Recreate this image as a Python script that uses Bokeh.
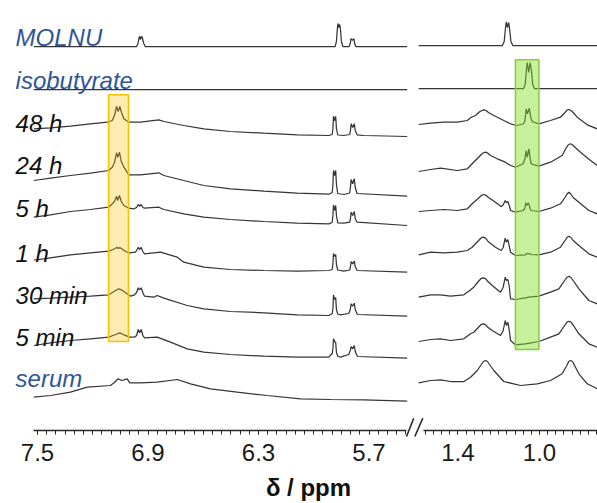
import numpy as np
from bokeh.plotting import figure
from bokeh.layouts import row
from bokeh.models import Range1d, FixedTicker, ColumnDataSource, NumeralTickFormatter
from bokeh.core.properties import value
from bokeh.embed import file_html
from bokeh.resources import INLINE

# ------------------------------------------------------------------ data
labels = ["MOLNU", "isobutyrate", "48 h", "24 h", "5 h", "1 h", "30 min", "5 min", "serum"]
label_is_reference = [True, True, False, False, False, False, False, False, True]

left_ticks = [7.5, 6.9, 6.3, 5.7]
left_tick_labels = ["7.5", "6.9", "6.3", "5.7"]
right_ticks = [1.4, 1.0]
right_tick_labels = ["1.4", "1.0"]
axis_title = "\u03b4 / ppm"

# highlighted signals (ppm)
yellow_band = [7.114, 7.006]
green_band = [1.118, 1.003]

# spectra: chemical shift (ppm) and intensity (a.u.)
molnu_left_ppm = [7.52, 6.962, 6.954, 6.949, 6.945, 6.941, 6.936, 6.931, 6.923, 6.915, 5.884, 5.877, 5.872, 5.869, 5.864, 5.859, 5.855, 5.850, 5.842, 5.808, 5.802, 5.798, 5.790, 5.782, 5.778, 5.772, 5.493]
molnu_left_int = [0, 0, 3, 9, 10, 7, 10, 9, 3, 0, 0, 5, 18, 23, 19, 22, 17, 5, 0, 0, 3, 8, 6, 8, 3, 0, 0]
molnu_right_ppm = [1.592, 1.182, 1.173, 1.167, 1.163, 1.157, 1.151, 1.147, 1.140, 1.131, 0.716]
molnu_right_int = [1, 1, 5, 18, 24.5, 19, 24, 18, 5, 1, 1]

iso_left_ppm = [7.52, 5.493]
iso_left_int = [0, 0]
iso_right_ppm = [1.592, 1.078, 1.070, 1.064, 1.060, 1.053, 1.046, 1.040, 1.033, 1.025, 0.716]
iso_right_int = [1, 1, 5, 20, 27, 17, 27, 20, 5, 1, 1]

h48_left_ppm = [7.520, 7.429, 7.321, 7.212, 7.121, 7.094, 7.082, 7.071, 7.062, 7.053, 7.044, 7.031, 7.004, 6.941, 6.841, 6.814, 6.706, 6.597, 6.452, 6.271, 6.090, 5.918, 5.900, 5.896, 5.893, 5.887, 5.881, 5.877, 5.870, 5.837, 5.805, 5.801, 5.797, 5.789, 5.780, 5.775, 5.765, 5.728, 5.493]
h48_left_int = [7.7, 8.7, 10.3, 12.7, 14.3, 16, 21, 30, 25, 30, 24, 17.7, 14.3, 14.3, 16.7, 15, 11, 7.7, 5, 3.3, 1.7, 1, 2, 8, 20.3, 16, 20, 8, 1.5, 1, 2, 6, 12.7, 9, 12.7, 6, 1.7, 1, 0]
h48_right_ppm = [1.592, 1.534, 1.469, 1.403, 1.354, 1.338, 1.314, 1.295, 1.283, 1.273, 1.262, 1.250, 1.224, 1.175, 1.142, 1.113, 1.080, 1.072, 1.065, 1.059, 1.050, 1.042, 1.036, 1.003, 0.946, 0.897, 0.875, 0.865, 0.856, 0.846, 0.835, 0.815, 0.766, 0.717]
h48_right_int = [12, 13.3, 14.3, 14.3, 16, 18.7, 21, 24.5, 26, 26.7, 26, 24, 21, 16, 12.7, 11, 12.5, 15, 27.7, 22.7, 28.3, 18, 15, 12.7, 16, 19.3, 24, 26.3, 27, 26, 24, 19.3, 11.7, 7.7]

h24_left_ppm = [7.520, 7.429, 7.321, 7.212, 7.113, 7.094, 7.082, 7.071, 7.064, 7.055, 7.045, 7.031, 7.004, 6.941, 6.841, 6.814, 6.706, 6.597, 6.452, 6.271, 6.090, 5.918, 5.900, 5.896, 5.893, 5.887, 5.881, 5.877, 5.870, 5.837, 5.805, 5.801, 5.797, 5.789, 5.780, 5.775, 5.765, 5.493]
h24_left_int = [16, 18.3, 21, 23.3, 26, 29.3, 34, 43.7, 39.3, 44.3, 35, 29.3, 21.7, 21.7, 23.7, 21, 16, 11, 7.7, 5.3, 3.3, 2.3, 4, 12, 26, 21, 26, 12, 3, 2, 3.5, 9, 17, 12.7, 17.7, 9, 3, 0.3]
h24_right_ppm = [1.592, 1.534, 1.485, 1.403, 1.354, 1.330, 1.290, 1.277, 1.265, 1.253, 1.240, 1.207, 1.167, 1.142, 1.118, 1.080, 1.071, 1.066, 1.060, 1.052, 1.046, 1.040, 1.003, 0.946, 0.889, 0.868, 0.858, 0.848, 0.837, 0.825, 0.799, 0.750, 0.717]
h24_right_int = [25, 27, 28.3, 26, 27.7, 32.7, 41, 43.5, 44.3, 43.3, 41, 37.7, 34.3, 31, 29.3, 32.7, 38, 46, 39.3, 47.7, 38, 32.5, 30.3, 34.3, 41, 49, 51.8, 52.7, 51.5, 49, 44.3, 36, 31]

h5_left_ppm = [7.520, 7.429, 7.321, 7.212, 7.113, 7.094, 7.082, 7.071, 7.064, 7.055, 7.045, 7.031, 7.004, 6.977, 6.962, 6.953, 6.946, 6.937, 6.928, 6.919, 6.841, 6.814, 6.706, 6.597, 6.452, 6.271, 6.090, 5.918, 5.900, 5.896, 5.893, 5.887, 5.881, 5.877, 5.870, 5.837, 5.805, 5.801, 5.797, 5.789, 5.780, 5.775, 5.765, 5.493]
h5_left_int = [8.3, 10.7, 14, 16, 18.3, 21.7, 24, 29.3, 25, 30, 24, 20, 17.3, 16.7, 18, 21, 19.3, 21, 18, 17.3, 18.3, 16, 11.7, 8.3, 6, 4, 2.3, 1.7, 3, 10, 20.7, 15, 20, 10, 2.7, 2.3, 3.3, 7, 13.3, 10, 14, 7, 3.3, 0]
h5_right_ppm = [1.592, 1.534, 1.469, 1.403, 1.354, 1.330, 1.295, 1.284, 1.273, 1.262, 1.250, 1.216, 1.188, 1.178, 1.168, 1.162, 1.155, 1.148, 1.142, 1.118, 1.080, 1.072, 1.067, 1.062, 1.054, 1.046, 1.041, 1.003, 0.946, 0.897, 0.875, 0.865, 0.856, 0.846, 0.835, 0.807, 0.758, 0.717]
h5_right_int = [14, 15, 16, 15, 16.7, 21.7, 28, 30.2, 31, 30.2, 28, 23.3, 19, 20.5, 25, 22.7, 24, 20, 15, 13.3, 15, 17, 22.7, 20, 22.7, 17, 15, 14, 17.3, 21.7, 28, 31.5, 33.3, 31.5, 28, 23.3, 15, 11.7]

h1_left_ppm = [7.520, 7.466, 7.321, 7.212, 7.113, 7.089, 7.067, 7.062, 7.053, 7.022, 7.000, 6.968, 6.962, 6.953, 6.946, 6.937, 6.928, 6.919, 6.832, 6.741, 6.706, 6.597, 6.452, 6.271, 6.090, 5.918, 5.900, 5.896, 5.893, 5.887, 5.881, 5.877, 5.870, 5.837, 5.805, 5.801, 5.797, 5.789, 5.780, 5.775, 5.765, 5.493]
h1_left_int = [12.5, 13.7, 17.7, 19.7, 21.3, 23, 25.3, 23.7, 25, 21, 19.7, 20.3, 22, 25.3, 23, 25, 21, 18.7, 20.3, 15.3, 10.3, 5.3, 3, 2, 1.3, 2, 3, 9, 19, 16, 18, 8, 2.5, 1.3, 2.5, 6, 11, 8.7, 11.3, 6, 2, 0.3]
h1_right_ppm = [1.592, 1.534, 1.469, 1.403, 1.354, 1.330, 1.298, 1.287, 1.276, 1.264, 1.252, 1.216, 1.188, 1.178, 1.168, 1.162, 1.155, 1.148, 1.142, 1.118, 1.069, 1.060, 1.055, 1.050, 1.044, 1.003, 0.946, 0.897, 0.875, 0.865, 0.856, 0.846, 0.835, 0.807, 0.758, 0.717]
h1_right_int = [17.7, 20.3, 19.7, 20.3, 22, 25.3, 32, 34.5, 35.3, 34.3, 31, 25.3, 22, 25, 34.3, 30.3, 33, 26, 20.3, 17, 17.7, 19.3, 18.7, 19, 18, 17.7, 20.3, 25.3, 32, 35, 36.3, 35, 32, 27, 18.7, 15.3]

m30_left_ppm = [7.520, 7.429, 7.321, 7.212, 7.113, 7.076, 7.059, 7.045, 7.013, 6.995, 6.973, 6.962, 6.953, 6.946, 6.937, 6.928, 6.919, 6.869, 6.850, 6.814, 6.687, 6.597, 6.452, 6.271, 6.090, 5.918, 5.900, 5.896, 5.893, 5.887, 5.881, 5.877, 5.870, 5.855, 5.810, 5.802, 5.797, 5.789, 5.780, 5.775, 5.763, 5.493]
m30_left_int = [17.7, 18.3, 19.3, 20.3, 21.7, 26, 27.7, 26.7, 22.7, 20.3, 21.7, 24, 28.7, 26.7, 28.7, 24, 20.3, 19.3, 21, 18.3, 11, 7.7, 5, 3.7, 1.7, 1, 3, 8, 21.7, 17, 19, 7, 2.5, 1.7, 3, 7, 12.7, 10.3, 13.3, 7, 2, 0.3]
m30_right_ppm = [1.592, 1.534, 1.485, 1.436, 1.371, 1.342, 1.322, 1.298, 1.287, 1.276, 1.265, 1.255, 1.232, 1.191, 1.178, 1.168, 1.162, 1.155, 1.148, 1.142, 1.118, 1.069, 1.052, 1.003, 0.946, 0.905, 0.875, 0.865, 0.856, 0.846, 0.835, 0.807, 0.758, 0.717]
m30_right_int = [19.3, 21.7, 21.7, 20.3, 21.7, 26, 29.3, 35.5, 37.8, 38.7, 37.8, 35.5, 31, 24.3, 29.3, 39.3, 36, 37, 30, 17.7, 17, 18.7, 19.3, 20.3, 24.3, 27.7, 36.5, 39.3, 40.3, 39, 36, 27.7, 16, 12.7]

m5_left_ppm = [7.520, 7.429, 7.321, 7.212, 7.113, 7.076, 7.053, 7.031, 6.999, 6.973, 6.962, 6.953, 6.946, 6.937, 6.928, 6.919, 6.850, 6.778, 6.687, 6.597, 6.452, 6.271, 6.090, 5.918, 5.900, 5.896, 5.893, 5.887, 5.881, 5.877, 5.870, 5.855, 5.810, 5.802, 5.797, 5.789, 5.780, 5.775, 5.763, 5.493]
m5_left_int = [13, 15.7, 18, 19.7, 21.3, 24, 25.7, 23.7, 21.3, 21.3, 23, 29, 25.7, 29, 23, 20.7, 21.3, 16.3, 9.7, 6.3, 4, 2.3, 1.3, 1.3, 5, 10, 19.7, 17, 16, 6, 2.5, 1.3, 4, 8, 12, 9.7, 13, 7, 2, 0.3]
m5_right_ppm = [1.592, 1.534, 1.485, 1.436, 1.371, 1.338, 1.322, 1.298, 1.287, 1.276, 1.265, 1.255, 1.232, 1.191, 1.178, 1.168, 1.162, 1.155, 1.148, 1.142, 1.118, 1.069, 1.003, 0.946, 0.905, 0.875, 0.865, 0.856, 0.846, 0.835, 0.807, 0.758, 0.717]
m5_right_int = [17, 19, 19.7, 18, 19.7, 24.7, 26.3, 31.5, 33.9, 34.7, 33.9, 31.5, 28, 23, 28, 38, 33, 36.3, 28, 18, 13.7, 14.7, 17, 21.3, 24.7, 33.5, 36.4, 37.3, 36.4, 33.5, 24.7, 14.7, 11.3]

serum_left_ppm = [7.520, 7.429, 7.321, 7.230, 7.104, 7.082, 7.064, 7.040, 7.013, 6.999, 6.941, 6.850, 6.741, 6.669, 6.561, 6.416, 6.253, 6.072, 5.909, 5.728, 5.493]
serum_left_int = [3.3, 5, 8.3, 13.3, 15, 18, 21.7, 20, 21.7, 17.7, 17.7, 18.3, 21, 16.7, 11.7, 8.3, 5, 1.7, 1, 0.7, -0.7]
serum_right_ppm = [1.592, 1.534, 1.485, 1.436, 1.371, 1.338, 1.305, 1.285, 1.275, 1.265, 1.255, 1.245, 1.224, 1.175, 1.093, 1.011, 0.946, 0.889, 0.866, 0.857, 0.848, 0.838, 0.828, 0.807, 0.766, 0.717]
serum_right_int = [17.7, 20, 20.7, 19, 19, 23.3, 30, 36, 39, 40, 39, 36, 30, 19, 15, 16.7, 20, 26.7, 35, 39, 40, 39, 35, 26.7, 16.7, 11.7]

# ------------------------------------------------------------------ layout / style
FIG_H = 503
Y_RANGE = (-430, 0)         # 1 data unit = 1 px, axis line at 430 px
OFFSETS = [46, 89, 136, 196, 225, 272, 316, 358, 400]
LABEL_BASELINES = [37, 80, 123, 165, 208, 253, 295, 337, 378]
LABEL_X = 7.619
LEFT_W, RIGHT_W = 414, 183
LEFT_RANGE = (7.7008, 5.4532)
RIGHT_RANGE = (1.6127, 0.7157)
LEFT_BOUNDS = (5.497, 7.522)
RIGHT_BOUNDS = (0.7157, 1.569)
YELLOW_Y = (-341, -94.3)
GREEN_Y = (-349, -59.3)
BLUE = "#2F5597"
INK = "#262626"
TRACE_COLOR = "#353535"
FONT = "Liberation Sans"

traces = [
    (molnu_left_ppm, molnu_left_int, molnu_right_ppm, molnu_right_int),
    (iso_left_ppm, iso_left_int, iso_right_ppm, iso_right_int),
    (h48_left_ppm, h48_left_int, h48_right_ppm, h48_right_int),
    (h24_left_ppm, h24_left_int, h24_right_ppm, h24_right_int),
    (h5_left_ppm, h5_left_int, h5_right_ppm, h5_right_int),
    (h1_left_ppm, h1_left_int, h1_right_ppm, h1_right_int),
    (m30_left_ppm, m30_left_int, m30_right_ppm, m30_right_int),
    (m5_left_ppm, m5_left_int, m5_right_ppm, m5_right_int),
    (serum_left_ppm, serum_left_int, serum_right_ppm, serum_right_int),
]


def make_fig(width, xr):
    p = figure(width=width, height=FIG_H, x_range=Range1d(*xr), y_range=Range1d(*Y_RANGE),
               output_backend="svg", toolbar_location=None, y_axis_location=None,
               min_border_left=0, min_border_right=0, min_border_top=0,
               min_border_bottom=FIG_H - (Y_RANGE[1] - Y_RANGE[0]))
    p.outline_line_color = None
    p.grid.visible = False
    p.background_fill_color = "white"
    p.border_fill_color = "white"
    return p


def style_axis(p, ticks, tick_labels, minor, bounds):
    ax = p.xaxis[0]
    ax.ticker = FixedTicker(ticks=ticks, minor_ticks=minor)
    ax.formatter = NumeralTickFormatter(format="0.0")
    ax.major_label_overrides = {t: s for t, s in zip(ticks, tick_labels)}
    ax.bounds = bounds
    ax.axis_line_color = INK
    ax.axis_line_width = 1.3
    ax.major_tick_line_color = INK
    ax.minor_tick_line_color = INK
    ax.major_tick_out = 4
    ax.major_tick_in = 0
    ax.minor_tick_out = 4
    ax.minor_tick_in = 0
    ax.major_label_text_font = FONT
    ax.major_label_text_font_size = "24px"
    ax.major_label_text_color = "#1a1a1a"
    ax.major_label_standoff = 9


pl = make_fig(LEFT_W, LEFT_RANGE)
pr = make_fig(RIGHT_W, RIGHT_RANGE)

style_axis(pl, left_ticks, left_tick_labels,
           [round(v, 3) for v in np.arange(5.50, 7.5201, 0.05)], LEFT_BOUNDS)
style_axis(pr, right_ticks, right_tick_labels,
           [round(v, 3) for v in np.arange(0.72, 1.5601, 0.04)], RIGHT_BOUNDS)

for off, (lx, ly, rx, ry) in zip(OFFSETS, traces):
    pl.line(lx, [-off + v for v in ly], line_color=TRACE_COLOR, line_width=1.25)
    pr.line(rx, [-off + v for v in ry], line_color=TRACE_COLOR, line_width=1.25)

# highlight boxes
pl.quad(left=[yellow_band[0]], right=[yellow_band[1]], bottom=[YELLOW_Y[0]], top=[YELLOW_Y[1]],
        fill_color="#FFC000", fill_alpha=0.3, line_color="#FFC000", line_width=1.6)
pr.quad(left=[green_band[0]], right=[green_band[1]], bottom=[GREEN_Y[0]], top=[GREEN_Y[1]],
        fill_color="#7FE020", fill_alpha=0.45, line_color="#8CCB4A", line_width=1.6)

# sample labels
lab_src = ColumnDataSource(dict(
    x=[LABEL_X] * len(labels),
    y=[-b for b in LABEL_BASELINES],
    text=labels,
    color=[BLUE if r else "#111111" for r in label_is_reference],
))
pl.text(x="x", y="y", text="text", source=lab_src, text_color="color",
        text_font=value(FONT), text_font_style="italic", text_font_size="24px",
        text_align="left", text_baseline="alphabetic")

# axis break marks
pl.segment(x0=[5.4966], y0=[-436], x1=[5.4570], y1=[-417.7], line_color=INK, line_width=1.6,
           level="annotation")
pr.segment(x0=[1.6113], y0=[-436], x1=[1.5721], y1=[-417.7], line_color=INK, line_width=1.6,
           level="annotation")

# axis title
pl.text(x=[6.0287], y=[-487], text=[axis_title], text_font=value(FONT), text_font_style="bold",
        text_font_size="24px", text_color="#111111", text_align="center",
        text_baseline="alphabetic", level="annotation")

layout = row(pl, pr)
open("out.html", "w").write(file_html(layout, INLINE, title="NMR"))
